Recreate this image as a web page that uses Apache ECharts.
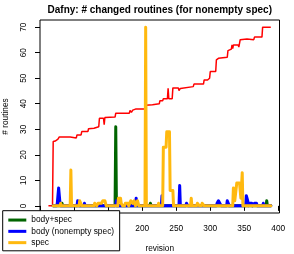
<!DOCTYPE html>
<html>
<head>
<meta charset="utf-8">
<script src="https://cdn.jsdelivr.net/npm/echarts@6/dist/echarts.min.js"></script>
<style>html,body{margin:0;padding:0;background:#fff}#c{width:294px;height:254px}</style>
</head>
<body>
<div id="c"></div>
<script>
// [revision, value] pairs
const totalNonemptySpec = [[62,0],[68,0],[69,25.2],[72,25.4],[73,25.9],[76,26.1],[78,27],[94,27],[95,26.6],[103,26.6],[104,27.8],[110,27.8],[111,29.1],[120,29.1],[121,30.2],[129,30.4],[130,31],[136,31],[137,34.3],[143,34.3],[144,31.8],[145,34.6],[160,34.8],[161,36.3],[181,36.3],[182,37.4],[184,36.6],[186,37.5],[188,37.2],[190,37.9],[204,37.9],[205,39.4],[215,39.6],[216,40],[225,40],[226,41.2],[230,41.2],[231,42],[237,42],[238,46],[239,42],[244,42],[245,46.2],[253,46.2],[254,45.2],[256,46],[258,46.7],[275,46.7],[276,47.7],[290,47.7],[291,49.3],[296,49.3],[297,50],[299,50],[300,52.6],[308,52.6],[309,57.2],[312,57.8],[314,58.2],[325,58.2],[326,60.8],[331,61.4],[332,63.1],[333,61.6],[334,63],[341,63],[342,62.2],[343,62.2],[344,65.1],[346,65.4],[354,65.4],[355,65.1],[364,65.1],[365,66.1],[376,66.1],[377,70],[389,70]];
const bodySpec = [[69,0],[81,0],[82,1],[83,0],[160,0],[161,31],[162,0],[211,0],[212,1],[213,0],[382,0],[383,2],[384,0],[389,0]];
const bodyOnly = [[69,0],[74,0],[75,1],[77,7],[79,1],[80,0],[104,0],[105,2],[106,2],[107,0],[114,0],[115,1],[116,0],[161,0],[162,2],[163,0],[190,0],[191,3],[192,3],[193,0],[228,0],[229,4],[230,0],[254,0],[255,8],[256,0],[264,0],[265,1],[266,1],[267,0],[309,0],[310,1],[312,2],[314,1],[316,0],[324,0],[325,2],[327,2],[328,0],[352,0],[353,4],[355,2],[356,0],[357,0],[358,1],[361,1],[362,0],[364,0],[365,1],[368,1],[369,0],[377,0],[378,1],[379,0],[389,0]];
const specOnly = [[69,0],[79,0],[80,1],[81,0],[94,0],[95,14],[96,0],[107,0],[108,2],[110,2],[111,0],[129,0],[130,1],[132,1],[133,0],[135,1],[140,1],[142,2],[145,2],[147,0],[164,0],[165,3],[168,3],[169,1],[171,0],[174,0],[175,1],[179,1],[180,0],[182,0],[183,2],[186,1],[188,2],[189,2],[190,0],[192,0],[193,2],[194,2],[195,0],[204,0],[205,70],[206,0],[223,0],[224,1],[225,0],[230,0],[231,23],[235,23],[236,29],[240,29],[241,6],[245,6],[246,0],[271,0],[272,3],[273,0],[280,0],[281,1],[283,1],[284,0],[287,0],[288,1],[290,1],[291,0],[333,0],[334,7],[336,2],[338,2],[339,9],[343,9],[345,3],[346,3],[347,13],[348,0],[389,0]];
const xTicks = [50,100,150,200,250,300,350,400];
const yTicks = [0,10,20,30,40,50,60,70];
const seriesNames = ['body+spec','body (nonempty spec)','spec'];
const titleText = 'Dafny: # changed routines (for nonempty spec)';

const FONT = 'Liberation Sans, Arial, Helvetica, sans-serif';
const chart = echarts.init(document.getElementById('c'), null, {renderer:'canvas'});
function spikeSeries(name, data, color){
  return {name, type:'line', data, showSymbol:false, symbol:'none', color,
    itemStyle:{color}, lineStyle:{color, width:3, cap:'round', join:'round'},
    animation:false, silent:true};
}
chart.setOption({
  animation:false,
  graphic:[{type:'text', x:159.75, y:10, style:{text:titleText, fontSize:10, fontWeight:'bold', fontFamily:FONT, fill:'#000', align:'center', verticalAlign:'middle'}}],
  grid:{left:40, right:14.5, top:20, bottom:41, containLabel:false, outerBoundsMode:'none', show:true, borderColor:'#000', borderWidth:1, backgroundColor:'transparent'},
  xAxis:{type:'value', min:49.6, max:401.8, name:'revision', nameLocation:'middle', nameGap:32,
    nameTextStyle:{fontSize:8.3, fontFamily:FONT, color:'#000'},
    axisLine:{show:false}, splitLine:{show:false},
    axisTick:{show:true, inside:false, length:5, customValues:xTicks, lineStyle:{color:'#000'}},
    axisLabel:{customValues:xTicks, fontSize:8.3, fontFamily:FONT, color:'#000', margin:12}},
  yAxis:{type:'value', min:-2.8, max:72.8, name:'# routines', nameLocation:'middle', nameGap:30,
    nameTextStyle:{fontSize:8.3, fontFamily:FONT, color:'#000'},
    axisLine:{show:false}, splitLine:{show:false},
    axisTick:{show:true, inside:false, length:5, customValues:yTicks, lineStyle:{color:'#000'}},
    axisLabel:{customValues:yTicks, rotate:90, fontSize:8.3, fontFamily:FONT, color:'#000', margin:12}},
  legend:{data:seriesNames, orient:'vertical', left:2.7, top:210.7, padding:[3.7,5.5,2.5,5.6], itemGap:0,
    itemWidth:18, itemHeight:3, icon:'rect', backgroundColor:'#fff', borderColor:'#000', borderWidth:1, borderRadius:0,
    textStyle:{fontSize:8.4, lineHeight:11.3, fontFamily:FONT, color:'#000'}, selectedMode:false},
  series:[
    {name:'total', type:'line', data:totalNonemptySpec, showSymbol:false, symbol:'none', color:'#ff0000',
      lineStyle:{color:'#ff0000', width:1.5}, animation:false, silent:true},
    spikeSeries(seriesNames[0], bodySpec, '#006400'),
    spikeSeries(seriesNames[1], bodyOnly, '#0000ff'),
    spikeSeries(seriesNames[2], specOnly, '#ffb90f')
  ]
});
</script>
</body>
</html>
